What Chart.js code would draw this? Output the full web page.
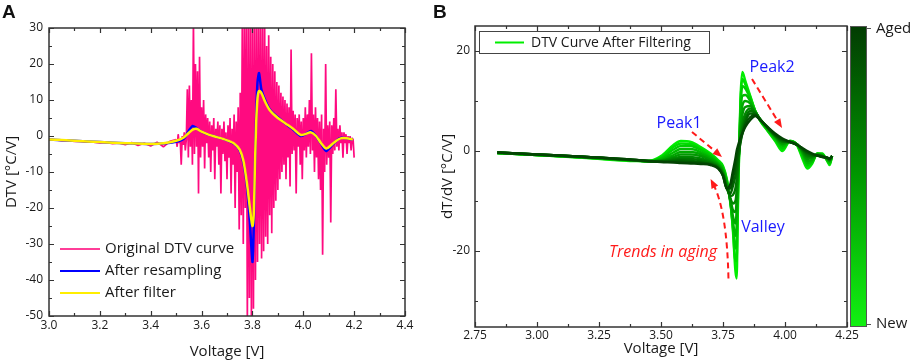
<!DOCTYPE html>
<html>
<head>
<meta charset="utf-8">
<script src="https://cdn.jsdelivr.net/npm/chart.js@4.4.1/dist/chart.umd.min.js"></script>
<style>
  body { margin: 0; background: #fff; width: 913px; height: 363px; overflow: hidden; position: relative; }
  #wrapA { position: absolute; left: 0; top: 0; }
  #wrapB { position: absolute; left: 440px; top: 0; }
  .tag { position: absolute; top: 1px; font: bold 19px 'Liberation Sans', Arial, sans-serif; color: #111; }
</style>
</head>
<body>
<div id="wrapA"><canvas id="chartA" width="440" height="363"></canvas></div>
<div id="wrapB"><canvas id="chartB" width="473" height="363"></canvas></div>
<div class="tag" style="left:2px">A</div>
<div class="tag" style="left:433px">B</div>
<script>
// ---------- panel A : raw / resampled / filtered DTV ----------
var filtV = [3.00, 3.10, 3.20, 3.30, 3.40, 3.45, 3.50, 3.53, 3.55, 3.565, 3.58, 3.60, 3.63, 3.66, 3.70,
             3.73, 3.75, 3.765, 3.78, 3.79, 3.80, 3.805, 3.81, 3.815, 3.82, 3.826, 3.835, 3.85, 3.87, 3.90,
             3.93, 3.96, 3.99, 4.01, 4.03, 4.05, 4.07, 4.09, 4.11, 4.13, 4.15, 4.17, 4.195];
var resampledT = [-1.0, -1.3, -1.7, -2.0, -2.2, -2.1, -1.6, -0.8, 1.5, 2.8, 2.2, 1.2, 0.3, -0.3, -1.2,
                  -2.3, -4, -7.5, -15, -24, -35, -26, -8, 6, 15, 17.5, 13, 10, 7.2, 5.2,
                  3.4, 1.8, 0.0, 0.6, 1.4, 0, -2.2, -4.2, -2.8, -1.3, -0.5, -0.6, -1.0];
var filteredT = [-1.0, -1.3, -1.7, -2.0, -2.2, -2.0, -1.3, -0.4, 0.9, 1.8, 2.0, 1.2, 0.3, -0.3, -1.2,
                 -2.2, -3.8, -7, -14, -20, -25, -22, -8, 4, 10.5, 12.5, 12, 9.5, 7, 5,
                 3.5, 2.0, 0.3, 0.6, 1.0, 0, -2, -3.5, -2.5, -1.3, -0.6, -0.6, -1.0];

// original curve, quiet part: 3.000 .. 3.475 every 0.025 V
var origQuietT = [-1.0, -1.1, -1.3, -1.3, -1.5, -1.5, -1.7, -1.7, -1.9, -1.8,
                  -2.1, -1.9, -2.4, -1.8, -2.6, -2.0, -2.8, -1.7, -3.0, -1.5];
// original curve, noisy part: 3.500 .. 4.200 every 0.004 V
var origNoisyT = [
  -1, -3, 0.5, -2, -1, -8, 0, -2.5, 1, -4,
  -1, 13, -6, 14, -3,   10, -8, 32, -5, 20,
  -3, 18, -16, 22, -6,  8, -3, 10, -9, 6,
  -2, 5, -6, 4, -10,    3, -4, 5, -12, 2,
  -3, 4, -8, 3, -16,    2, -5, 4, -7, 1,
  -12, 3, -6, 5, -16,   2, -8, 6, -20, 4,
  -10, 8, -26, 12, -22, 30, -30, 32, -20, 32,
  -52, 32, -45, 32, -52, 32, -48, 32, -40, 32,
  -35, 32, -30, 32, -34, 30, -32, 32, -28, 25,
  -30, 28, -22, 22, -27, 20, -20, 18, -18, 15,
  -15, 14, -12, 12, -10, 11, -8, 10, -12, 9,
  -6, 8, -14, 24, -5,   7, -4, 6, -16, 5,
  -3, 6, -8, 4, -12,    5, -4, 8, -6, 6,
  -3, 10, -5, 23, -4,   6, -10, 8, -6, 5,
  -12, 4, -15, 6, -33,  2, -10, 20, -8, 3,
  -6, 4, -24, 3, -5,    5, -4, 13, -3, 2,
  -4, 3, -2, 1, -6,     1, -2, 0.5, -5, 0,
  -2, 0, -4, -0.5, -1, -6
];

var aTicksX = [3.0, 3.2, 3.4, 3.6, 3.8, 4.0, 4.2, 4.4];
var aMinorX = [3.1, 3.3, 3.5, 3.7, 3.9, 4.1, 4.3];
var aTicksY = [-50, -40, -30, -20, -10, 0, 10, 20, 30];
var aMinorY = [-45, -35, -25, -15, -5, 5, 15, 25];

// ---------- panel B : filtered curves, new -> aged ----------
var curveV = [2.84, 3.00, 3.20, 3.40, 3.45, 3.50, 3.55, 3.58, 3.62, 3.66, 3.70, 3.73, 3.75, 3.765, 3.78,
              3.79, 3.80, 3.805, 3.81, 3.82, 3.828, 3.84, 3.86, 3.88, 3.90, 3.93, 3.96, 3.99, 4.02, 4.05,
              4.07, 4.09, 4.11, 4.13, 4.15, 4.17, 4.18, 4.19];
var cycleNew = [-0.4, -0.8, -1.4, -2.0, -2.0, -1.0, 1.2, 2.0, 1.8, 0.8, -0.5, -1.8, -3.0, -5.5, -10,
                -16, -24, -25.5, -12, 10, 15.8, 14, 11, 8, 6, 4, 2, 0, 2, 1,
                -1.5, -3.5, -2.5, -0.5, -0.5, -2, -2.8, -1.0];
var cycle1b = [-0.4, -0.8, -1.35, -1.95, -2.0, -1.2, 0.8, 1.5, 1.4, 0.5, -0.7, -2.0, -3.2, -5.7, -10.2,
               -15.5, -22, -22, -10, 9, 14.4, 13.3, 10.8, 8, 6.1, 4.1, 2.2, 0.3, 2.0, 1.1,
               -1.1, -3.1, -2.3, -0.5, -0.6, -1.9, -2.6, -1.0];
var cycle2 = [-0.4, -0.8, -1.3, -1.9, -2.0, -1.4, 0.3, 1.0, 1.0, 0.2, -0.9, -2.2, -3.5, -6, -10.5,
              -15, -19.5, -18, -8, 8, 13, 12.5, 10.5, 8, 6.2, 4.2, 2.4, 0.6, 2.0, 1.2,
              -0.8, -2.8, -2.2, -0.6, -0.7, -1.8, -2.4, -1.0];
var cycle2b = [-0.4, -0.8, -1.3, -1.9, -2.05, -1.6, -0.3, 0.4, 0.4, -0.2, -1.2, -2.4, -3.7, -6.2, -10.2,
               -14, -17, -15, -6.5, 6.5, 11, 11.2, 10, 7.9, 6.2, 4.3, 2.6, 1.0, 1.9, 1.2,
               -0.5, -2.4, -1.9, -0.6, -0.8, -1.7, -2.2, -1.0];
var cycle3 = [-0.4, -0.8, -1.3, -1.9, -2.1, -1.8, -0.8, -0.2, -0.2, -0.6, -1.5, -2.6, -4, -6.5, -10,
              -13, -14.5, -12, -5, 5, 9, 10, 9.5, 7.8, 6.3, 4.5, 2.8, 1.3, 1.9, 1.3,
              -0.3, -2.0, -1.7, -0.7, -0.9, -1.6, -2.0, -1.0];
var cycle3b = [-0.35, -0.75, -1.25, -1.9, -2.1, -1.9, -1.2, -0.7, -0.7, -1.0, -1.8, -2.8, -4.2, -6.7, -9.8,
               -11.8, -12.2, -10, -4.5, 3.8, 7.2, 8.8, 9, 7.8, 6.3, 4.5, 2.9, 1.5, 1.8, 1.3,
               -0.1, -1.6, -1.4, -0.7, -0.9, -1.5, -1.9, -1.0];
var cycle4 = [-0.3, -0.7, -1.2, -1.9, -2.1, -2.0, -1.5, -1.2, -1.2, -1.5, -2.1, -3.0, -4.5, -7, -9.5,
              -10.5, -10, -8, -4, 2.5, 5.5, 7.5, 8.5, 7.8, 6.4, 4.6, 3.0, 1.8, 1.8, 1.3,
              0.1, -1.2, -1.2, -0.8, -1.0, -1.5, -1.8, -1.0];
var cycle4b = [-0.3, -0.7, -1.2, -1.85, -2.05, -2.05, -1.75, -1.55, -1.6, -1.85, -2.35, -3.15, -4.65, -7.2, -9,
               -8.8, -7.5, -5.8, -2.8, 2, 4.5, 6.6, 8, 7.6, 6.3, 4.6, 3.1, 1.9, 1.8, 1.2,
               0.25, -0.85, -1.0, -0.85, -1.05, -1.45, -1.7, -1.0];
var cycle5 = [-0.3, -0.7, -1.2, -1.8, -2.0, -2.1, -2.0, -1.9, -2.0, -2.2, -2.6, -3.3, -4.8, -7.5, -8.5,
              -7, -5, -3.5, -1.5, 1.5, 3.5, 5.8, 7.5, 7.4, 6.3, 4.7, 3.2, 2.1, 1.8, 1.2,
              0.4, -0.5, -0.8, -0.9, -1.1, -1.4, -1.6, -1.0];
var cycle5b = [-0.3, -0.7, -1.2, -1.8, -2.0, -2.15, -2.15, -2.15, -2.25, -2.4, -2.7, -3.4, -4.9, -7.5, -7.5,
               -5.5, -3.2, -1.7, -0.2, 2, 3.5, 5.3, 6.8, 7.2, 6.2, 4.7, 3.3, 2.3, 1.8, 1.2,
               0.5, -0.25, -0.65, -0.9, -1.15, -1.35, -1.55, -1.0];
var cycleAged = [-0.3, -0.7, -1.2, -1.8, -2.0, -2.2, -2.3, -2.4, -2.5, -2.6, -2.8, -3.5, -5, -7.5, -6.5,
                 -4, -1.5, 0, 1, 2.5, 3.5, 4.8, 6.2, 7.0, 6.2, 4.8, 3.5, 2.5, 1.8, 1.2,
                 0.6, 0, -0.5, -0.9, -1.2, -1.3, -1.5, -1.0];
// new -> aged
var cycles = [cycleNew, cycle1b, cycle2, cycle2b, cycle3, cycle3b, cycle4, cycle4b, cycle5, cycle5b, cycleAged];
var cycleColors = ['#00ee00', '#00dd00', '#00cc00', '#00bb00', '#00aa00', '#009900',
                   '#008800', '#007700', '#006600', '#005500', '#034403'];

var bTicksX = [2.75, 3.00, 3.25, 3.50, 3.75, 4.00, 4.25];
var bMinorX = [2.875, 3.125, 3.375, 3.625, 3.875, 4.125];
var bTicksY = [-20, 0, 20];
var bMinorY = [-30, -10, 10];

var FONT = "'Open Sans', 'Noto Sans', sans-serif";
var INK = '#1a1a1a';

function pts(xs, ys) {
  return ys.map(function (t, i) { return { x: xs[i], y: t }; });
}

// sample grid of the raw signal
var origV = [];
origQuietT.forEach(function (t, i) { origV.push(+(3.0 + 0.025 * i).toFixed(3)); });
origNoisyT.forEach(function (t, i) { origV.push(+(3.5 + 0.004 * i).toFixed(3)); });
var origT = origQuietT.concat(origNoisyT);

// frame + inward ticks on all four sides
function framePlugin(majX, minX, majY, minY) {
  return {
    id: 'frame',
    afterDatasetsDraw: function (chart) {
      var ctx = chart.ctx, a = chart.chartArea, sx = chart.scales.x, sy = chart.scales.y;
      ctx.save();
      ctx.strokeStyle = '#333';
      ctx.lineWidth = 1.5;
      ctx.strokeRect(a.left, a.top, a.right - a.left, a.bottom - a.top);
      ctx.lineWidth = 1.2;
      ctx.beginPath();
      function xm(list, len) {
        list.forEach(function (v) {
          var p = Math.round(sx.getPixelForValue(v)) + 0.5;
          ctx.moveTo(p, a.bottom); ctx.lineTo(p, a.bottom - len);
          ctx.moveTo(p, a.top); ctx.lineTo(p, a.top + len);
        });
      }
      function ym(list, len) {
        list.forEach(function (v) {
          var p = Math.round(sy.getPixelForValue(v)) + 0.5;
          ctx.moveTo(a.left, p); ctx.lineTo(a.left + len, p);
          ctx.moveTo(a.right, p); ctx.lineTo(a.right - len, p);
        });
      }
      xm(majX, 5); xm(minX, 3); ym(majY, 5); ym(minY, 3);
      ctx.stroke();
      ctx.restore();
    }
  };
}

function axis(min, max, list, size, fmt, pad, title, titlePad, fit) {
  return {
    type: 'linear', min: min, max: max,
    afterBuildTicks: function (s) { s.ticks = list.map(function (v) { return { value: v }; }); },
    afterFit: fit,
    grid: { display: false, drawTicks: false },
    border: { display: false },
    ticks: { autoSkip: false, maxRotation: 0, padding: pad, color: INK,
             font: { family: FONT, size: size }, callback: fmt },
    title: { display: true, text: title, color: INK, padding: titlePad,
             font: { family: FONT, size: 15, lineHeight: 1.2 } }
  };
}

// ----- chart A -----
var legendA = {
  id: 'legendA',
  afterDraw: function (chart) {
    var ctx = chart.ctx;
    var items = [['Original DTV curve', '#ff3d98'], ['After resampling', '#0000ff'], ['After filter', '#ffee00']];
    ctx.save();
    ctx.font = '15px ' + FONT;
    ctx.textBaseline = 'middle';
    items.forEach(function (it, k) {
      var yy = 249 + k * 22;
      ctx.strokeStyle = it[1]; ctx.lineWidth = 2;
      ctx.beginPath(); ctx.moveTo(60, yy); ctx.lineTo(100, yy); ctx.stroke();
      ctx.fillStyle = INK;
      ctx.fillText(it[0], 105, yy);
    });
    ctx.restore();
  }
};

new Chart(document.getElementById('chartA'), {
  type: 'line',
  data: {
    datasets: [
      { label: 'After filter', data: pts(filtV, filteredT), borderColor: '#ffee00', borderWidth: 2.5,
        pointRadius: 0, tension: 0.3, order: 0 },
      { label: 'After resampling', data: pts(filtV, resampledT), borderColor: '#0000ff', borderWidth: 2.5,
        pointRadius: 0, tension: 0.2, order: 1 },
      { label: 'Original DTV curve', data: pts(origV, origT), borderColor: '#ff0a80', borderWidth: 1.7,
        borderJoinStyle: 'bevel', pointRadius: 0, tension: 0, order: 2 }
    ]
  },
  options: {
    responsive: false,
    animation: false,
    layout: { padding: { left: 0, top: 28, right: 35, bottom: 0 } },
    plugins: { legend: { display: false }, tooltip: { enabled: false } },
    scales: {
      x: axis(3.0, 4.4, aTicksX, 12, function (v) { return v.toFixed(1); }, 2, 'Voltage [V]',
              { top: 0, bottom: 2 }, function (s) { s.height = 47; }),
      y: axis(-50, 30, aTicksY, 12, function (v) { return String(v); }, 6, 'DTV [\u00b0C/V]',
              { top: 3, bottom: 0 }, function (s) { s.width = 49; })
    }
  },
  plugins: [framePlugin(aTicksX, aMinorX, aTicksY, aMinorY), legendA]
});

// ----- chart B -----
var notesB = [
  { text: 'Peak1', v: 3.573, t: 5.6, color: '#1a1aff', italic: false },
  { text: 'Peak2', v: 3.948, t: 16.8, color: '#1a1aff', italic: false },
  { text: 'Valley', v: 3.911, t: -15.2, color: '#1a1aff', italic: false },
  { text: 'Trends in aging', v: 3.508, t: -20.2, color: '#ff1a1a', italic: true }
];
var arrowsB = [
  [[3.625, 3.8], [3.746, -1.2]],
  [[3.867, 14.4], [3.988, 4.6]],
  [[3.772, -25.5], [3.766, -12], [3.700, -5.6]]
];

var decorB = {
  id: 'decorB',
  afterDatasetsDraw: function (chart) {
    var ctx = chart.ctx, sx = chart.scales.x, sy = chart.scales.y;
    function p(q) { return [sx.getPixelForValue(q[0]), sy.getPixelForValue(q[1])]; }
    ctx.save();
    ctx.textAlign = 'center';
    ctx.textBaseline = 'middle';
    notesB.forEach(function (n) {
      ctx.font = (n.italic ? 'italic ' : '') + '16px ' + FONT;
      ctx.fillStyle = n.color;
      ctx.fillText(n.text, sx.getPixelForValue(n.v), sy.getPixelForValue(n.t));
    });
    ctx.strokeStyle = '#ff1a1a'; ctx.fillStyle = '#ff1a1a'; ctx.lineWidth = 2;
    arrowsB.forEach(function (ar) {
      var q = ar.map(p), e = q[q.length - 1], b = q[q.length - 2];
      var ang = Math.atan2(e[1] - b[1], e[0] - b[0]);
      var stop = [e[0] - 6 * Math.cos(ang), e[1] - 6 * Math.sin(ang)];
      ctx.setLineDash([6, 4]);
      ctx.beginPath();
      ctx.moveTo(q[0][0], q[0][1]);
      if (q.length === 3) ctx.quadraticCurveTo(q[1][0], q[1][1], stop[0], stop[1]);
      else ctx.lineTo(stop[0], stop[1]);
      ctx.stroke();
      ctx.setLineDash([]);
      ctx.beginPath();
      ctx.moveTo(e[0], e[1]);
      ctx.lineTo(e[0] - 10 * Math.cos(ang - 0.38), e[1] - 10 * Math.sin(ang - 0.38));
      ctx.lineTo(e[0] - 10 * Math.cos(ang + 0.38), e[1] - 10 * Math.sin(ang + 0.38));
      ctx.closePath();
      ctx.fill();
    });
    ctx.restore();
  },
  afterDraw: function (chart) {
    var ctx = chart.ctx, a = chart.chartArea;
    ctx.save();
    // legend box
    ctx.fillStyle = '#fff';
    ctx.fillRect(a.left + 4.5, a.top + 5.5, 230, 22);
    ctx.strokeStyle = '#444'; ctx.lineWidth = 1;
    ctx.strokeRect(a.left + 4.5, a.top + 5.5, 230, 22);
    ctx.strokeStyle = cycleColors[0]; ctx.lineWidth = 2;
    ctx.beginPath(); ctx.moveTo(a.left + 20, a.top + 16.5); ctx.lineTo(a.left + 49, a.top + 16.5); ctx.stroke();
    ctx.fillStyle = INK; ctx.font = '14px ' + FONT; ctx.textBaseline = 'middle';
    ctx.fillText('DTV Curve After Filtering', a.left + 56, a.top + 17);
    // colour bar
    var cx = a.right + 3, cw = 16, top = a.top, bot = a.bottom - 1;
    var g = ctx.createLinearGradient(0, top, 0, bot);
    g.addColorStop(0, '#023c02');
    g.addColorStop(0.5, '#009800');
    g.addColorStop(1, '#12f012');
    ctx.fillStyle = g;
    ctx.fillRect(cx, top, cw, bot - top);
    ctx.strokeStyle = '#555'; ctx.lineWidth = 1;
    ctx.strokeRect(cx + 0.5, top + 0.5, cw, bot - top);
    ctx.beginPath();
    ctx.moveTo(cx + cw, top + 2.5); ctx.lineTo(cx + cw + 5, top + 2.5);
    ctx.moveTo(cx + cw, bot - 1.5); ctx.lineTo(cx + cw + 5, bot - 1.5);
    ctx.stroke();
    ctx.fillStyle = INK; ctx.font = '15px ' + FONT;
    ctx.fillText('Aged', cx + cw + 10, top + 3);
    ctx.fillText('New', cx + cw + 10, bot - 2);
    ctx.restore();
  }
};

// aged curves first so they are drawn on top
var bSets = cycles.map(function (c, k) {
  return { label: k === 0 ? 'DTV Curve After Filtering' : 'cycle ' + k, data: pts(curveV, c),
           borderColor: cycleColors[k], borderWidth: 2.4, pointRadius: 0,
           cubicInterpolationMode: 'monotone' };
}).reverse();

new Chart(document.getElementById('chartB'), {
  type: 'line',
  data: { datasets: bSets },
  options: {
    responsive: false,
    animation: false,
    layout: { padding: { left: 0, top: 26, right: 66, bottom: 0 } },
    plugins: { legend: { display: false }, tooltip: { enabled: false } },
    scales: {
      x: axis(2.75, 4.25, bTicksX, 12, function (v) { return v.toFixed(2); }, 1, 'Voltage [V]',
              { top: 0, bottom: 5 }, function (s) { s.height = 36; }),
      y: axis(-35.2, 25, bTicksY, 12, function (v) { return String(v); }, 5, 'dT/dV [\u00b0C/V]',
              { top: -1, bottom: 0 }, function (s) { s.width = 35; })
    }
  },
  plugins: [framePlugin(bTicksX, bMinorX, bTicksY, bMinorY), decorB]
});
</script>
</body>
</html>
